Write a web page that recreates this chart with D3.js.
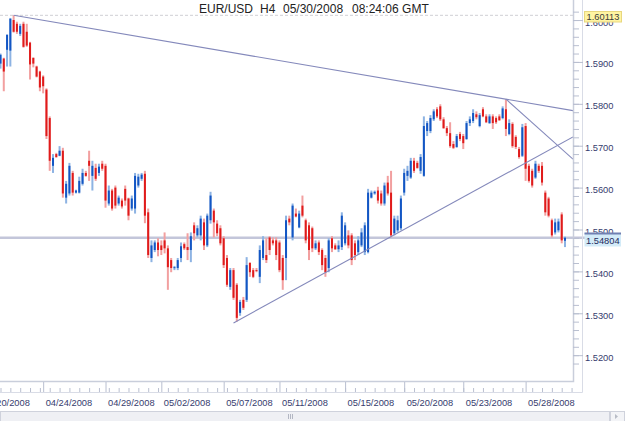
<!DOCTYPE html>
<html>
<head>
<meta charset="utf-8">
<script src="https://cdn.jsdelivr.net/npm/d3@7"></script>
<style>
  html, body { margin: 0; padding: 0; background: #fff; }
  svg { display: block; font-family: "Liberation Sans", Arial, sans-serif; }
</style>
</head>
<body>
<div id="chart"></div>
<script>
(function(){
  'use strict';

  // EUR/USD H4 candles (oldest first)
  var opens = [
    1.5896, 1.5908, 1.5929, 1.5927, 1.6000, 1.5991, 1.5967, 1.5991, 1.5972, 1.5946,
    1.5910, 1.5889, 1.5877, 1.5865, 1.5834, 1.5766, 1.5652, 1.5680, 1.5676, 1.5688,
    1.5576, 1.5586, 1.5635, 1.5588, 1.5588, 1.5609, 1.5635, 1.5664, 1.5628, 1.5647,
    1.5635, 1.5657, 1.5652, 1.5562, 1.5593, 1.5600, 1.5562, 1.5569, 1.5597, 1.5574,
    1.5550, 1.5550, 1.5605, 1.5621, 1.5633, 1.5541, 1.5432, 1.5451, 1.5469, 1.5462,
    1.5474, 1.5455, 1.5427, 1.5408, 1.5408, 1.5432, 1.5465, 1.5458, 1.5451, 1.5510,
    1.5486, 1.5486, 1.5517, 1.5462, 1.5522, 1.5545, 1.5514, 1.5503, 1.5479, 1.5432,
    1.5363, 1.5403, 1.5368, 1.5301, 1.5332, 1.5332, 1.5420, 1.5403, 1.5403, 1.5387,
    1.5432, 1.5439, 1.5481, 1.5474, 1.5474, 1.5469, 1.5432, 1.5432, 1.5526, 1.5481,
    1.5538, 1.5505, 1.5557, 1.5522, 1.5510, 1.5503, 1.5455, 1.5469, 1.5451, 1.5432,
    1.5408, 1.5479, 1.5462, 1.5453, 1.5458, 1.5467, 1.5486, 1.5486, 1.5467, 1.5446,
    1.5462, 1.5446, 1.5446, 1.5576, 1.5586, 1.5593, 1.5586, 1.5562, 1.5612, 1.5588,
    1.5491, 1.5498, 1.5503, 1.5588, 1.5628, 1.5624, 1.5664, 1.5659, 1.5640, 1.5628,
    1.5735, 1.5735, 1.5763, 1.5787, 1.5794, 1.5763, 1.5742, 1.5730, 1.5704, 1.5697,
    1.5728, 1.5723, 1.5716, 1.5754, 1.5759, 1.5775, 1.5747, 1.5787, 1.5770, 1.5754,
    1.5770, 1.5766, 1.5770, 1.5766, 1.5787, 1.5728, 1.5752, 1.5721, 1.5692, 1.5676,
    1.5747, 1.5652, 1.5640, 1.5624, 1.5652, 1.5652, 1.5588, 1.5574, 1.5522, 1.5493,
    1.5498, 1.5536, 1.5473
  ];
  var highs = [
    1.5920, 1.5910, 1.5965, 1.6005, 1.60113, 1.5996, 1.5991, 1.5996, 1.5991, 1.5948,
    1.5910, 1.5891, 1.5879, 1.5868, 1.5837, 1.5770, 1.5680, 1.5683, 1.5699, 1.5695,
    1.5616, 1.5659, 1.5640, 1.5595, 1.5626, 1.5645, 1.5640, 1.5688, 1.5664, 1.5657,
    1.5657, 1.5664, 1.5657, 1.5605, 1.5597, 1.5605, 1.5581, 1.5574, 1.5605, 1.5576,
    1.5581, 1.5635, 1.5633, 1.5635, 1.5640, 1.5550, 1.5474, 1.5474, 1.5479, 1.5474,
    1.5493, 1.5462, 1.5432, 1.5413, 1.5432, 1.5469, 1.5469, 1.5491, 1.5493, 1.5517,
    1.5510, 1.5533, 1.5526, 1.5538, 1.5590, 1.5550, 1.5522, 1.5510, 1.5484, 1.5439,
    1.5408, 1.5408, 1.5372, 1.5332, 1.5339, 1.5434, 1.5422, 1.5408, 1.5408, 1.5462,
    1.5484, 1.5479, 1.5484, 1.5481, 1.5481, 1.5474, 1.5439, 1.5533, 1.5533, 1.5562,
    1.5550, 1.5545, 1.5581, 1.5526, 1.5517, 1.5507, 1.5474, 1.5474, 1.5455, 1.5439,
    1.5479, 1.5484, 1.5467, 1.5474, 1.5541, 1.5517, 1.5498, 1.5491, 1.5474, 1.5484,
    1.5503, 1.5517, 1.5597, 1.5593, 1.5593, 1.5602, 1.5593, 1.5612, 1.5628, 1.5640,
    1.5533, 1.5533, 1.5581, 1.5645, 1.5652, 1.5671, 1.5671, 1.5664, 1.5680, 1.5770,
    1.5759, 1.5773, 1.5787, 1.5792, 1.5799, 1.5768, 1.5747, 1.5756, 1.5711, 1.5728,
    1.5733, 1.5728, 1.5759, 1.5770, 1.5787, 1.5782, 1.5778, 1.5792, 1.5775, 1.5775,
    1.5775, 1.5770, 1.5775, 1.5794, 1.5811, 1.5763, 1.5756, 1.5725, 1.5697, 1.5752,
    1.5754, 1.5657, 1.5645, 1.5664, 1.5657, 1.5661, 1.5593, 1.5578, 1.5526, 1.5526,
    1.5526, 1.5541, 1.5483
  ];
  var lows = [
    1.5884, 1.5830, 1.5889, 1.5889, 1.5970, 1.5967, 1.5962, 1.5934, 1.5936, 1.5858,
    1.5887, 1.5863, 1.5830, 1.5825, 1.5716, 1.5640, 1.5635, 1.5671, 1.5675, 1.5576,
    1.5562, 1.5581, 1.5581, 1.5586, 1.5586, 1.5605, 1.5626, 1.5616, 1.5593, 1.5616,
    1.5628, 1.5640, 1.5552, 1.5557, 1.5545, 1.5550, 1.5557, 1.5550, 1.5557, 1.5522,
    1.5545, 1.5538, 1.5600, 1.5616, 1.5515, 1.5432, 1.5422, 1.5446, 1.5436, 1.5439,
    1.5443, 1.5356, 1.5398, 1.5403, 1.5403, 1.5422, 1.5451, 1.5427, 1.5422, 1.5474,
    1.5481, 1.5474, 1.5451, 1.5458, 1.5514, 1.5481, 1.5484, 1.5462, 1.5408, 1.5363,
    1.5356, 1.5332, 1.5280, 1.5294, 1.5308, 1.5327, 1.5387, 1.5384, 1.5398, 1.5372,
    1.5427, 1.5420, 1.5439, 1.5462, 1.5427, 1.5398, 1.5356, 1.5379, 1.5510, 1.5474,
    1.5529, 1.5503, 1.5529, 1.5467, 1.5427, 1.5446, 1.5451, 1.5439, 1.5403, 1.5387,
    1.5398, 1.5446, 1.5451, 1.5446, 1.5451, 1.5462, 1.5455, 1.5415, 1.5427, 1.5439,
    1.5458, 1.5439, 1.5443, 1.5574, 1.5583, 1.5562, 1.5557, 1.5557, 1.5581, 1.5481,
    1.5486, 1.5493, 1.5498, 1.5581, 1.5616, 1.5621, 1.5635, 1.5645, 1.5633, 1.5626,
    1.5723, 1.5730, 1.5759, 1.5766, 1.5759, 1.5740, 1.5723, 1.5695, 1.5692, 1.5695,
    1.5711, 1.5692, 1.5714, 1.5747, 1.5754, 1.5763, 1.5744, 1.5768, 1.5754, 1.5752,
    1.5740, 1.5752, 1.5759, 1.5763, 1.5723, 1.5725, 1.5695, 1.5692, 1.5669, 1.5673,
    1.5616, 1.5612, 1.5600, 1.5621, 1.5635, 1.5605, 1.5533, 1.5529, 1.5481, 1.5488,
    1.5493, 1.5467, 1.5458
  ];
  var closes = [
    1.5917, 1.5877, 1.5965, 1.6003, 1.5972, 1.5972, 1.5986, 1.5936, 1.5939, 1.5894,
    1.5896, 1.5865, 1.5839, 1.5842, 1.5723, 1.5664, 1.5671, 1.5673, 1.5688, 1.5586,
    1.5609, 1.5652, 1.5588, 1.5593, 1.5616, 1.5635, 1.5628, 1.5652, 1.5652, 1.5621,
    1.5650, 1.5645, 1.5569, 1.5593, 1.5550, 1.5557, 1.5576, 1.5555, 1.5569, 1.5533,
    1.5574, 1.5628, 1.5626, 1.5631, 1.5533, 1.5439, 1.5462, 1.5469, 1.5451, 1.5451,
    1.5455, 1.5410, 1.5408, 1.5410, 1.5427, 1.5460, 1.5455, 1.5451, 1.5484, 1.5491,
    1.5503, 1.5526, 1.5462, 1.5533, 1.5581, 1.5517, 1.5491, 1.5467, 1.5415, 1.5368,
    1.5403, 1.5337, 1.5289, 1.5327, 1.5313, 1.5415, 1.5398, 1.5387, 1.5401, 1.5451,
    1.5474, 1.5427, 1.5451, 1.5467, 1.5439, 1.5403, 1.5379, 1.5522, 1.5517, 1.5557,
    1.5531, 1.5538, 1.5533, 1.5474, 1.5451, 1.5455, 1.5467, 1.5446, 1.5415, 1.5398,
    1.5474, 1.5455, 1.5453, 1.5462, 1.5533, 1.5510, 1.5462, 1.5427, 1.5439, 1.5474,
    1.5493, 1.5510, 1.5588, 1.5588, 1.5590, 1.5569, 1.5562, 1.5605, 1.5586, 1.5486,
    1.5526, 1.5522, 1.5574, 1.5635, 1.5640, 1.5664, 1.5640, 1.5647, 1.5673, 1.5747,
    1.5754, 1.5766, 1.5782, 1.5770, 1.5763, 1.5742, 1.5730, 1.5699, 1.5695, 1.5723,
    1.5716, 1.5706, 1.5754, 1.5763, 1.5778, 1.5768, 1.5773, 1.5770, 1.5756, 1.5770,
    1.5754, 1.5756, 1.5761, 1.5789, 1.5740, 1.5754, 1.5699, 1.5697, 1.5673, 1.5744,
    1.5645, 1.5616, 1.5605, 1.5657, 1.5640, 1.5612, 1.5541, 1.5533, 1.5486, 1.5517,
    1.5519, 1.5474, 1.54804
  ];

  // date axis: bar index of each labelled tick
  var dateTicks = [-6, 13, 32, 49, 68, 85, 105, 123, 141, 160],
      dateLabels = ['04/20/2008', '04/24/2008', '04/29/2008', '05/02/2008', '05/07/2008',
                    '05/11/2008', '05/15/2008', '05/20/2008', '05/23/2008', '05/28/2008'];

  var priceTicks = [1.52, 1.53, 1.54, 1.55, 1.56, 1.57, 1.58, 1.59, 1.60];

  var highPrice = 1.60113,
      lastPrice = 1.54804;

  // trend lines: two anchor points each, drawn on to the right edge
  var trendLines = [
    [{bar: 4, price: 1.60113}, {bar: 154, price: 1.5811}],
    [{bar: 71, price: 1.5277}, {bar: 119, price: 1.5483}],
    [{bar: 154, price: 1.5811}, {bar: 165, price: 1.5734}]
  ];

  var title = [
    {t: 'EUR/USD', x: 199},
    {t: 'H4', x: 260},
    {t: '05/30/2008', x: 283},
    {t: '08:24:06 GMT', x: 352}
  ];

  var w = 625,
      h = 421,
      plotR = 573,
      plotB = 382,
      axisR = 583,
      axisB = 392;

  var upBody = '#1356c4', upWick = '#8db3e3',
      dnBody = '#e01b1b', dnWick = '#f2a0a0',
      axisCol = '#c9cedb', textCol = '#363c6e';

  var svg = d3.select('#chart').append('svg')
      .attr('width', w)
      .attr('height', h);

  var x = d3.scaleLinear()
      .domain([0, opens.length - 1])
      .range([0.5, 565]);

  var y = d3.scaleLinear()
      .domain([lastPrice, highPrice])
      .range([237.7, 15.3]);

  svg.append('defs').append('clipPath')
      .attr('id', 'plotclip')
    .append('rect')
      .attr('x', 0).attr('y', 0)
      .attr('width', plotR).attr('height', plotB);

  // high line (dotted)
  svg.append('line')
    .attr('x1', 0).attr('x2', plotR)
    .attr('y1', y(highPrice)).attr('y2', y(highPrice))
    .style('stroke', '#cfcfd4')
    .style('stroke-dasharray', '3,2');

  // last price line
  svg.append('line')
    .attr('x1', 0).attr('x2', 585)
    .attr('y1', y(lastPrice)).attr('y2', y(lastPrice))
    .style('stroke', '#c3c6da')
    .style('stroke-width', 2.5);

  var plot = svg.append('g').attr('clip-path', 'url(#plotclip)');

  var candles = plot.selectAll('.candle')
    .data(opens.map(function(o, i) {
      return {i: i, o: o, h: highs[i], l: lows[i], c: closes[i]};
    }))
    .enter()
    .append('g')
    .attr('class', 'candle');

  candles.append('rect')
    .attr('x', function(d) { return x(d.i) - 1; })
    .attr('y', function(d) { return y(d.h); })
    .attr('width', 2)
    .attr('height', function(d) { return Math.max(1, y(d.l) - y(d.h)); })
    .style('fill', function(d) { return d.c >= d.o ? upWick : dnWick; });

  candles.append('rect')
    .attr('x', function(d) { return x(d.i) - 1; })
    .attr('y', function(d) { return y(Math.max(d.o, d.c)); })
    .attr('width', 2)
    .attr('height', function(d) { return Math.max(1, Math.abs(y(d.o) - y(d.c))); })
    .style('fill', function(d) { return d.c >= d.o ? upBody : dnBody; });

  // trend lines
  var edgeBar = x.invert(plotR);
  plot.selectAll('.trend')
    .data(trendLines)
    .enter()
    .append('line')
    .attr('class', 'trend')
    .attr('x1', function(d) { return x(d[0].bar); })
    .attr('y1', function(d) { return y(d[0].price); })
    .attr('x2', x(edgeBar))
    .attr('y2', function(d) {
      var k = (d[1].price - d[0].price) / (d[1].bar - d[0].bar);
      return y(d[0].price + k * (edgeBar - d[0].bar));
    })
    .style('stroke', '#8489bb')
    .style('stroke-width', 1.1);

  // frames
  var frame = svg.append('g').style('stroke', axisCol).style('fill', 'none');
  frame.append('path').attr('d', 'M0,' + (plotB - 0.5) + 'H' + (plotR + 0.5) + 'V0')
    .style('stroke-width', 1.5);
  frame.append('path').attr('d', 'M0,' + (axisB + 0.5) + 'H' + (axisR - 0.5) + 'V0')
    .style('stroke', '#d9dce6');

  // right price axis
  var yMinor = d3.axisRight(y)
      .tickValues(d3.range(1.518, 1.6031, 0.002))
      .tickSize(6)
      .tickFormat('');
  svg.append('g')
    .attr('class', 'y minor')
    .attr('transform', 'translate(' + plotR + ',0)')
    .call(yMinor);

  var yAxis = d3.axisRight(y)
      .tickValues(priceTicks)
      .tickSize(10)
      .tickPadding(2)
      .tickFormat(d3.format('.4f'));
  svg.append('g')
    .attr('class', 'y axis')
    .attr('transform', 'translate(' + plotR + ',0)')
    .call(yAxis);

  // bottom date axis
  var xMinor = d3.axisTop(x)
      .tickValues(d3.range(-6, opens.length + 2, 3))
      .tickSize(4)
      .tickFormat('');
  svg.append('g')
    .attr('class', 'x minor')
    .attr('transform', 'translate(0,' + axisB + ')')
    .call(xMinor);

  var xAxis = d3.axisBottom(x)
      .tickValues(dateTicks)
      .tickSize(10)
      .tickPadding(7)
      .tickFormat(function(d, i) { return dateLabels[i]; });
  svg.append('g')
    .attr('class', 'x axis')
    .attr('transform', 'translate(0,' + plotB + ')')
    .call(xAxis);

  svg.selectAll('.axis .domain, .minor .domain').remove();
  svg.selectAll('.axis line, .minor line').style('stroke', '#b9bfd0');
  svg.selectAll('.axis text')
    .style('fill', textCol)
    .style('font-size', '9.3px');
  svg.selectAll('.y.axis text').attr('dy', '0.32em').attr('y', 2);
  svg.selectAll('.x.axis text').attr('text-anchor', 'start').attr('dx', 2);

  // price tags
  svg.append('rect')
    .attr('x', 584.5).attr('y', 11.5)
    .attr('width', 37).attr('height', 10.5)
    .style('fill', '#fff4a3')
    .style('stroke', '#e8d77e');
  svg.append('text')
    .attr('x', 603).attr('y', 20.2)
    .attr('text-anchor', 'middle')
    .style('font-size', '9.3px')
    .style('fill', '#3a3a3a')
    .text(d3.format('.5f')(highPrice));

  svg.append('rect')
    .attr('x', 584.5).attr('y', 233)
    .attr('width', 36.5).attr('height', 13.5)
    .style('fill', '#d3ebf8');
  svg.append('line')
    .attr('x1', 584.5).attr('x2', 621)
    .attr('y1', 233.5).attr('y2', 233.5)
    .style('stroke', '#7080b2')
    .style('stroke-width', 2);
  svg.append('text')
    .attr('x', 602.8).attr('y', 244)
    .attr('text-anchor', 'middle')
    .style('font-size', '9.3px')
    .style('fill', '#1f2a5c')
    .text(d3.format('.5f')(lastPrice));

  // title
  svg.append('text')
    .attr('y', 12.7)
    .style('font-size', '12px')
    .style('fill', '#222')
    .selectAll('tspan')
    .data(title)
    .enter()
    .append('tspan')
    .attr('x', function(d) { return d.x; })
    .text(function(d) { return d.t; });

  // scrollbar strip at the bottom
  var sb = svg.append('g');
  sb.append('rect')
    .attr('x', 0.5).attr('y', 411.5)
    .attr('width', 609).attr('height', 10)
    .style('fill', '#eff0f4')
    .style('stroke', '#cfd2dc');
  sb.selectAll('.grip')
    .data([288, 290, 292])
    .enter()
    .append('line')
    .attr('x1', function(d) { return d + 0.5; })
    .attr('x2', function(d) { return d + 0.5; })
    .attr('y1', 414).attr('y2', 419)
    .style('stroke', '#b3b7c3');
  sb.append('rect')
    .attr('x', 610.5).attr('y', 411.5)
    .attr('width', 14).attr('height', 10)
    .style('fill', '#f3f4f7')
    .style('stroke', '#cfd2dc');
  sb.append('path')
    .attr('d', 'M615,414L618,416.5L615,419Z')
    .style('fill', '#b8bcc6');

}());
</script>
</body>
</html>
